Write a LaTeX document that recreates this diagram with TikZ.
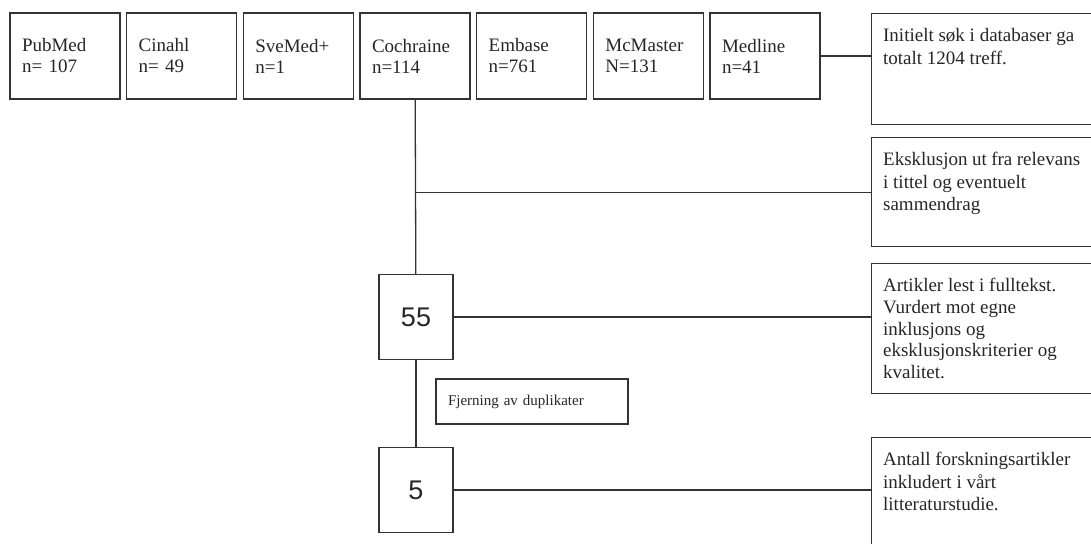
\documentclass[tikz,border=0pt]{standalone}
\usepackage{fontspec}
\setmainfont{Liberation Serif}
\newfontfamily\tallfont{Liberation Sans}
\definecolor{linegray}{gray}{0.2}
\definecolor{textgray}{gray}{0.15}
\newcommand{\sidetext}[2]{\parbox[c][#1][t]{197pt}{\raggedright\rule{0pt}{16pt}#2}}

\begin{document}
\begin{tikzpicture}[
  x=1pt, y=-1pt,
  dbnode/.style={rectangle, draw=linegray, line width=1.3pt, minimum width=110pt, minimum height=86pt, inner xsep=12pt, text width=86pt, align=left, text=textgray, font=\fontsize{19}{21}\selectfont},
  sidenode/.style={rectangle, draw=linegray, line width=1.3pt, anchor=north west, inner xsep=11.5pt, inner ysep=12pt, text=textgray, font=\fontsize{19}{22.5}\selectfont},
  countnode/.style={rectangle, draw=linegray, line width=1.3pt, minimum width=74pt, minimum height=85pt, text=textgray, font=\tallfont\fontsize{27}{30}\selectfont},
  notenode/.style={rectangle, draw=linegray, line width=1.3pt, minimum width=192pt, minimum height=45pt, inner xsep=12pt, text width=168pt, align=left, text=textgray, font=\fontsize{15}{18}\selectfont},
  edge/.style={line width=1.3pt, draw=linegray}
]
  \useasboundingbox (0,0) rectangle (1091,543);

  % Databaser (øverste rad)
  \foreach \name/\db/\cnt [count=\i] in {pubmed/PubMed/n= 107, cinahl/Cinahl/n= 49, svemed/SveMed+/n=1, cochraine/Cochraine/n=114, embase/Embase/n=761, mcmaster/McMaster/N=131, medline/Medline/n=41} {
    \pgfmathsetmacro{\xpos}{65 + (\i-1)*116.67}
    \node[dbnode] (\name) at (\xpos, 56) {\db\\\cnt};
  }

  % Forklaringer til høyre
  \node[sidenode] (initielt) at (871, 13) {\sidetext{87pt}{Initielt søk i databaser ga\\totalt 1204 treff.}};
  \node[sidenode] (eksklusjon) at (871, 137) {\sidetext{85pt}{Eksklusjon ut fra relevans\\i tittel og eventuelt\\sammendrag}};
  \node[sidenode] (artikler) at (871, 263) {\sidetext{106pt}{\baselineskip=21.7pt Artikler lest i fulltekst.\\Vurdert mot egne\\inklusjons og\\eksklusjonskriterier og\\kvalitet.}};
  \node[sidenode] (antall) at (871, 437) {\sidetext{91pt}{Antall forskningsartikler\\inkludert i vårt\\litteraturstudie.}};

  % Antall artikler etter hvert trinn
  \node[countnode] (n55) at (416, 317) {55};
  \node[countnode] (n5) at (416, 490) {5};
  \node[notenode] (fjerning) at (532, 401.5) {Fjerning av duplikater};

  % Linjer
  \draw[edge] (cochraine) -- (n55);
  \draw[edge] (n55) -- (n5);
  \draw[edge] (medline.east) -- (medline.east -| initielt.west);
  \draw[edge] (cochraine.south |- eksklusjon.west) -- (eksklusjon.west);
  \draw[edge] (n55.east) -- (n55.east -| artikler.west);
  \draw[edge] (n5.east) -- (n5.east -| antall.west);
\end{tikzpicture}
\end{document}
